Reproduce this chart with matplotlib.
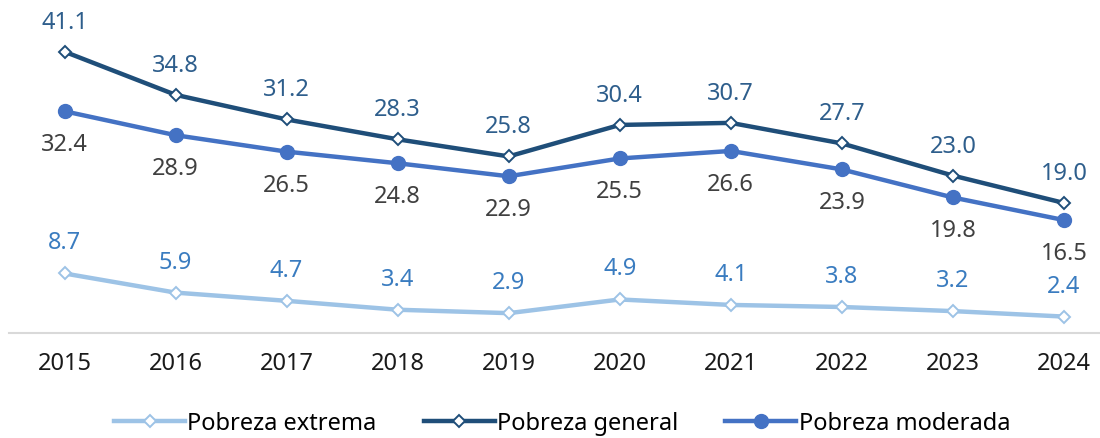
import numpy as np
import matplotlib.pyplot as plt
from matplotlib.lines import Line2D

# Data
anios = ['2015', '2016', '2017', '2018', '2019', '2020', '2021', '2022', '2023', '2024']
pobreza_extrema = [8.7, 5.9, 4.7, 3.4, 2.9, 4.9, 4.1, 3.8, 3.2, 2.4]
pobreza_general = [41.1, 34.8, 31.2, 28.3, 25.8, 30.4, 30.7, 27.7, 23.0, 19.0]
pobreza_moderada = [32.4, 28.9, 26.5, 24.8, 22.9, 25.5, 26.6, 23.9, 19.8, 16.5]

plt.rcParams['font.family'] = ['Noto Sans', 'DejaVu Sans']

c_ext = '#9DC3E6'
c_gen = '#1F4E79'
c_mod = '#4472C4'

fig = plt.figure(figsize=(11, 4.39), dpi=100)
ax = fig.add_axes([9/1100, 1 - 334/439, 1 - 9/1100, 334/439])
x = np.arange(len(anios))

ax.plot(x, pobreza_extrema, color=c_ext, lw=3.2, marker='D', ms=6.5,
        mfc='white', mec=c_ext, mew=1.4, label='Pobreza extrema', zorder=3)
ax.plot(x, pobreza_general, color=c_gen, lw=3.2, marker='D', ms=6.5,
        mfc='white', mec=c_gen, mew=1.4, label='Pobreza general', zorder=3)
ax.plot(x, pobreza_moderada, color=c_mod, lw=3.2, marker='o', ms=10,
        mfc=c_mod, mec=c_mod, label='Pobreza moderada', zorder=3)

# Etiquetas de valores
for i in range(len(anios)):
    ax.annotate(f'{pobreza_general[i]:.1f}', (x[i], pobreza_general[i]),
                xytext=(0, 30), textcoords='offset pixels', ha='center', va='center',
                fontsize=17, color='#2E5E8C')
    ax.annotate(f'{pobreza_moderada[i]:.1f}', (x[i], pobreza_moderada[i]),
                xytext=(0, -33), textcoords='offset pixels', ha='center', va='center',
                fontsize=17, color='#404040')
    ax.annotate(f'{pobreza_extrema[i]:.1f}', (x[i], pobreza_extrema[i]),
                xytext=(0, 31), textcoords='offset pixels', ha='center', va='center',
                fontsize=17, color='#3A7CC0')

ax.set_xlim(-0.5, (1100 - 64) / 111.1)
ax.set_ylim(0, 48.8)
ax.set_xticks(x)
ax.set_xticklabels(anios, fontsize=17, color='#1a1a1a')
ax.tick_params(axis='x', length=0, pad=13)
ax.set_yticks([])
for s in ['top', 'right', 'left']:
    ax.spines[s].set_visible(False)
ax.spines['bottom'].set_color('#D9D9D9')
ax.spines['bottom'].set_linewidth(1.5)
ax.patch.set_alpha(0)

handles = [
    Line2D([], [], color=c_ext, lw=3.2, marker='D', ms=6.5, mfc='white', mec=c_ext, mew=1.4),
    Line2D([], [], color=c_gen, lw=3.2, marker='D', ms=6.5, mfc='white', mec=c_gen, mew=1.4),
    Line2D([], [], color=c_mod, lw=3.2, marker='o', ms=10, mfc=c_mod, mec=c_mod),
]
fig.legend(handles, ['Pobreza extrema', 'Pobreza general', 'Pobreza moderada'],
           loc='center', bbox_to_anchor=(0.511, 1 - 424/439), ncol=3, frameon=False,
           fontsize=17, handlelength=3, handletextpad=0.1, columnspacing=2.0)

plt.savefig('out.png', dpi=100)
